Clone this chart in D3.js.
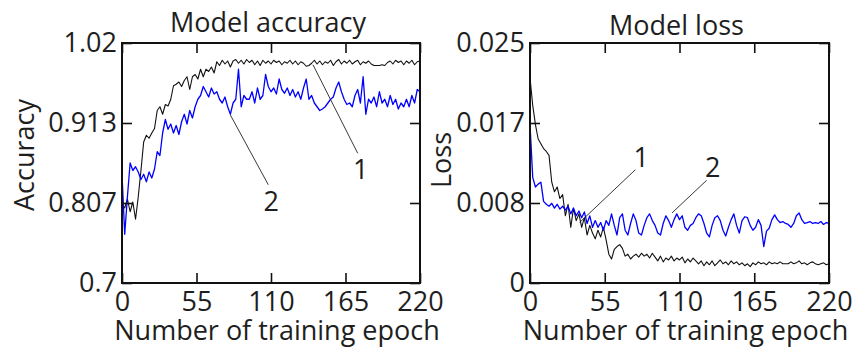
<!DOCTYPE html>
<html>
<head>
<meta charset="utf-8">
<script src="https://cdn.jsdelivr.net/npm/d3@7"></script>
<style>
body { margin: 0; background: #fff; }
text { font-family: "Open Sans", sans-serif; fill: #1e1e1e; }
</style>
</head>
<body>
<svg id="chart" width="858" height="347"></svg>
<script>
// epochs sampled every 2
var epochs = d3.range(0, 221, 2);

// curve 1 (black) and curve 2 (blue), accuracy
var acc1 = [0.805,0.800,0.812,0.795,0.808,0.785,0.815,0.850,0.888,0.897,0.893,0.900,0.906,0.930,0.935,0.925,0.938,0.936,0.945,0.963,
  0.965,0.968,0.962,0.970,0.975,0.958,0.975,0.978,0.972,0.985,0.975,0.985,0.982,0.988,0.980,0.995,0.990,0.997,0.992,0.996,
  0.988,0.996,0.998,0.993,0.997,0.992,0.998,0.994,0.997,0.991,0.996,0.990,0.997,0.993,0.996,0.992,0.997,0.994,0.996,0.991,
  0.995,0.993,0.997,0.992,0.996,0.991,0.995,0.993,0.989,0.990,0.993,0.997,0.992,0.996,0.991,0.995,0.993,0.997,0.990,0.995,
  0.998,0.992,0.996,0.993,0.997,0.992,0.995,0.997,0.991,0.995,0.993,0.996,0.992,0.990,0.990,0.990,0.991,0.990,0.994,0.996,
  0.992,0.997,0.994,0.996,0.991,0.996,0.993,0.997,0.991,0.995,0.996];
var acc2 = [0.845,0.765,0.815,0.860,0.850,0.855,0.848,0.838,0.845,0.835,0.848,0.840,0.852,0.875,0.870,0.900,0.918,0.905,0.912,0.900,
  0.910,0.898,0.915,0.925,0.912,0.930,0.920,0.935,0.945,0.950,0.962,0.955,0.948,0.960,0.952,0.955,0.945,0.940,0.948,0.935,
  0.925,0.940,0.945,0.985,0.935,0.950,0.945,0.945,0.955,0.940,0.960,0.945,0.950,0.978,0.962,0.955,0.960,0.952,0.972,0.958,
  0.953,0.960,0.950,0.958,0.948,0.955,0.945,0.960,0.972,0.945,0.950,0.940,0.935,0.930,0.932,0.935,0.940,0.945,0.948,0.960,
  0.968,0.955,0.945,0.938,0.940,0.935,0.950,0.958,0.940,0.975,0.925,0.945,0.940,0.948,0.935,0.955,0.940,0.945,0.935,0.950,
  0.938,0.945,0.932,0.940,0.935,0.945,0.935,0.950,0.940,0.958,0.955];

// loss
var loss1 = [0.0214,0.0185,0.0165,0.0150,0.0145,0.0140,0.0137,0.0133,0.0105,0.0095,0.0100,0.0088,0.0092,0.0070,0.0082,0.0058,0.0078,0.0065,0.0072,0.0058,
  0.0068,0.0050,0.0060,0.0052,0.0046,0.0055,0.0048,0.0058,0.0045,0.0030,0.0025,0.0035,0.0038,0.0040,0.0036,0.0028,0.0030,0.0025,0.0028,0.0030,
  0.0027,0.0031,0.0028,0.0030,0.0026,0.0031,0.0027,0.0023,0.0028,0.0022,0.0026,0.0024,0.0028,0.0023,0.0026,0.0024,0.0027,0.0021,0.0025,0.0022,
  0.0026,0.0023,0.0020,0.0023,0.0018,0.0022,0.0019,0.0023,0.0018,0.0021,0.0024,0.0020,0.0022,0.0019,0.0023,0.0020,0.0022,0.0019,0.0021,0.0018,
  0.0020,0.0017,0.0021,0.0019,0.0022,0.0020,0.0021,0.0019,0.0022,0.0020,0.0021,0.0020,0.0022,0.0020,0.0020,0.0020,0.0022,0.0020,0.0021,0.0023,
  0.0020,0.0021,0.0019,0.0021,0.0022,0.0020,0.0019,0.0020,0.0021,0.0019,0.0020];
var loss2 = [0.0165,0.0110,0.0100,0.0103,0.0105,0.0085,0.0082,0.0080,0.0083,0.0078,0.0082,0.0077,0.0080,0.0076,0.0080,0.0072,0.0078,0.0070,0.0075,0.0068,
  0.0074,0.0062,0.0070,0.0058,0.0065,0.0058,0.0063,0.0055,0.0065,0.0060,0.0072,0.0060,0.0050,0.0068,0.0072,0.0055,0.0050,0.0062,0.0072,0.0065,
  0.0052,0.0050,0.0060,0.0068,0.0072,0.0065,0.0060,0.0052,0.0050,0.0062,0.0070,0.0065,0.0058,0.0066,0.0072,0.0066,0.0070,0.0058,0.0055,0.0060,
  0.0062,0.0068,0.0072,0.0070,0.0062,0.0052,0.0048,0.0060,0.0068,0.0070,0.0065,0.0055,0.0049,0.0058,0.0066,0.0072,0.0060,0.0052,0.0065,0.0069,
  0.0068,0.0060,0.0055,0.0058,0.0066,0.0060,0.0038,0.0054,0.0057,0.0066,0.0071,0.0066,0.0063,0.0064,0.0062,0.0061,0.0058,0.0062,0.0070,0.0073,
  0.0066,0.0062,0.0063,0.0064,0.0062,0.0063,0.0062,0.0064,0.0061,0.0063,0.0062];

var xTicks = [0, 55, 110, 165, 220];
var accTickLabels = ["0.7", "0.807", "0.913", "1.02"];
var lossTickLabels = ["0", "0.008", "0.017", "0.025"];

// leader lines: [epoch, value] at the curve end and at the label end
var accNotes = [
  {label: "1", from: [141, 0.991], to: [174, 0.873]},
  {label: "2", from: [80, 0.924], to: [108, 0.831]}
];
var lossNotes = [
  {label: "1", from: [36.5, 0.0063], to: [77.5, 0.0118]},
  {label: "2", from: [104.5, 0.0073], to: [130, 0.0107]}
];

var svg = d3.select("#chart");
var fontSize = 27;

var panels = [
  {left: 122, right: 420, title: "Model accuracy", titleY: 32, ylabel: "Accuracy", ylabelX: 34, ylabelY: 155,
   domain: [0.7, 1.02], tickLabels: accTickLabels, series: [acc1, acc2], notes: accNotes},
  {left: 530, right: 829, title: "Model loss", titleY: 35, ylabel: "Loss", ylabelX: 451, ylabelY: 160,
   domain: [0, 0.025], tickLabels: lossTickLabels, series: [loss1, loss2], notes: lossNotes}
];

var plotTop = 43, plotBottom = 283;
var colors = ["#111", "#0000ff"];

panels.forEach(function(p) {
  var x = d3.scaleLinear().domain([0, 220]).range([p.left, p.right]);
  var y = d3.scaleLinear().domain(p.domain).range([plotBottom, plotTop]);
  var yTicks = d3.range(4).map(function(i) { return p.domain[0] + i * (p.domain[1] - p.domain[0]) / 3; });

  var g = svg.append("g");

  var line = d3.line()
    .x(function(d, i) { return x(epochs[i]); })
    .y(function(d) { return y(d); });

  p.series.forEach(function(s, i) {
    g.append("path")
      .datum(s)
      .attr("fill", "none")
      .attr("stroke", colors[i])
      .attr("stroke-width", i === 1 ? 1.3 : 1.1)
      .attr("stroke-linejoin", "round")
      .attr("d", line);
  });

  // leader lines and curve numbers (number sits past the free end)
  p.notes.forEach(function(n) {
    var ex = x(n.to[0]), ey = y(n.to[1]);
    var below = n.to[1] < n.from[1];
    g.append("line")
      .attr("x1", x(n.from[0])).attr("y1", y(n.from[1]))
      .attr("x2", ex).attr("y2", ey)
      .attr("stroke", "#222")
      .attr("stroke-width", 0.9);
    g.append("text")
      .attr("x", ex + (below ? 3 : 6))
      .attr("y", below ? ey + 26 : ey - 3)
      .attr("text-anchor", "middle")
      .style("font-size", fontSize + "px")
      .text(n.label);
  });

  // axes, ticks inward on all sides
  var axes = [
    {axis: d3.axisBottom(x).tickValues(xTicks).tickSizeInner(-10).tickSizeOuter(0).tickPadding(9), t: "translate(0," + plotBottom + ")"},
    {axis: d3.axisTop(x).tickValues(xTicks).tickSizeInner(-10).tickSizeOuter(0).tickFormat(""), t: "translate(0," + plotTop + ")"},
    {axis: d3.axisLeft(y).tickValues(yTicks).tickSizeInner(-10).tickSizeOuter(0).tickPadding(5)
      .tickFormat(function(d, i) { return p.tickLabels[i]; }), t: "translate(" + p.left + ",0)"},
    {axis: d3.axisRight(y).tickValues(yTicks).tickSizeInner(-10).tickSizeOuter(0).tickFormat(""), t: "translate(" + p.right + ",0)"}
  ];
  axes.forEach(function(a) {
    var ag = g.append("g").attr("transform", a.t).call(a.axis);
    ag.select(".domain").remove();
    ag.selectAll(".tick line").attr("stroke", "#111").attr("stroke-width", 1.6);
    ag.selectAll(".tick text")
      .style("font-size", fontSize + "px")
      .style("font-family", "'Open Sans', sans-serif")
      .attr("fill", "#1e1e1e");
  });

  g.append("rect")
    .attr("x", p.left).attr("y", plotTop)
    .attr("width", p.right - p.left).attr("height", plotBottom - plotTop)
    .attr("fill", "none")
    .attr("stroke", "#111")
    .attr("stroke-width", 2);

  g.append("text")
    .attr("x", (p.left + p.right) / 2 - 3)
    .attr("y", p.titleY)
    .attr("text-anchor", "middle")
    .style("font-size", fontSize + "px")
    .text(p.title);

  g.append("text")
    .attr("x", (p.left + p.right) / 2 + 6)
    .attr("y", 340)
    .attr("text-anchor", "middle")
    .style("font-size", fontSize + "px")
    .text("Number of training epoch");

  g.append("text")
    .attr("transform", "translate(" + p.ylabelX + "," + p.ylabelY + ") rotate(-90)")
    .attr("text-anchor", "middle")
    .style("font-size", fontSize + "px")
    .text(p.ylabel);
});
</script>
</body>
</html>
